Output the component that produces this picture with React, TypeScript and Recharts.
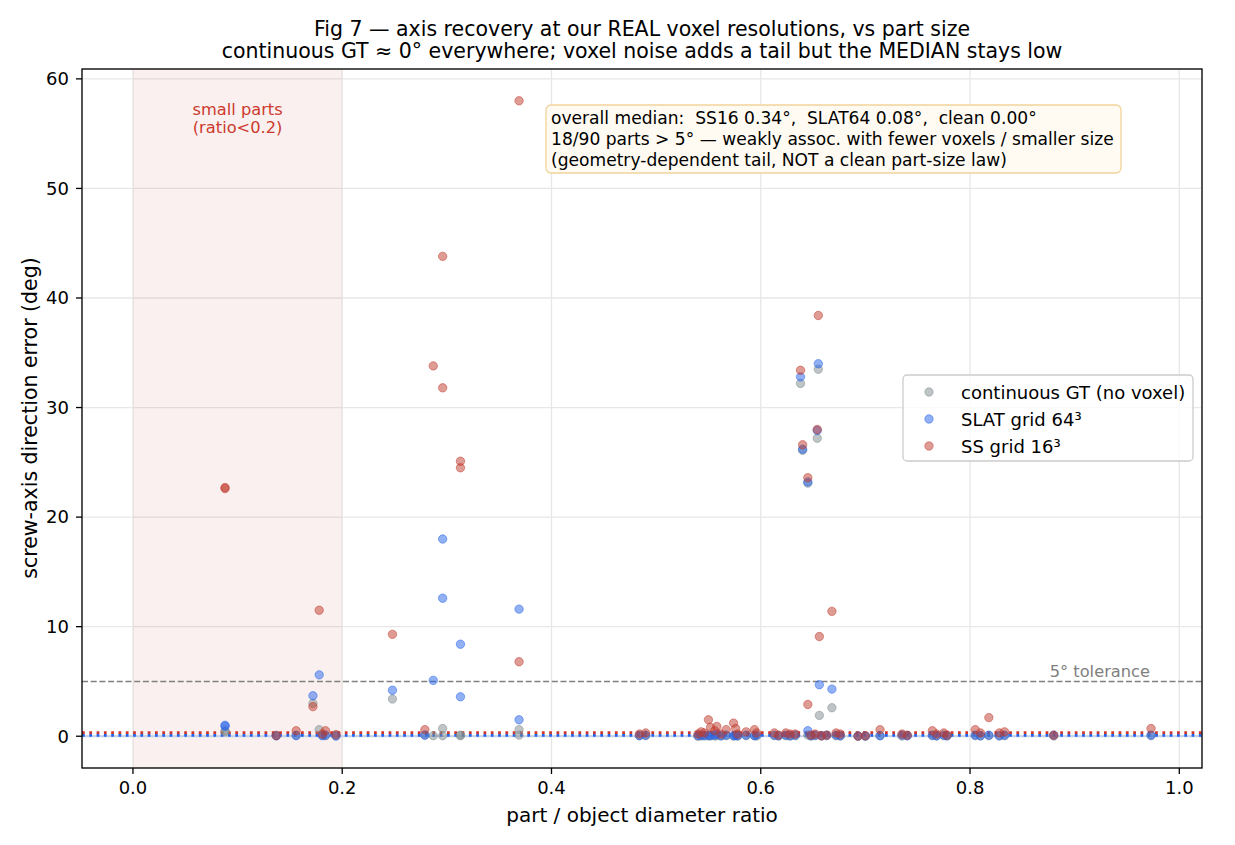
import {
  CartesianGrid,
  Label,
  ReferenceArea,
  ReferenceLine,
  Scatter,
  ScatterChart,
  XAxis,
  YAxis,
} from "recharts";

// part / object diameter ratio, one entry per part
const partRatio = [
  0.088, 0.088, 0.137, 0.156, 0.172, 0.178, 0.181, 0.184, 0.194, 0.248,
  0.279, 0.287, 0.296, 0.296, 0.313, 0.313, 0.369, 0.369, 0.484, 0.49,
  0.54, 0.543, 0.546, 0.55, 0.552, 0.556, 0.558, 0.562, 0.567, 0.574,
  0.576, 0.578, 0.586, 0.594, 0.596, 0.613, 0.617, 0.624, 0.628, 0.633,
  0.638, 0.64, 0.645, 0.645, 0.648, 0.652, 0.654, 0.655, 0.656, 0.658,
  0.663, 0.668, 0.672, 0.676, 0.693, 0.7, 0.714, 0.735, 0.74, 0.764,
  0.768, 0.775, 0.778, 0.805, 0.81, 0.818, 0.828, 0.833, 0.88, 0.973,
];

// screw-axis direction error (deg), continuous ground truth
const gtErr = [
  0.4, 0.5, 0.02, 0.1, 3.0, 0.6, 0.1, 0.05, 0.05, 3.4,
  0.1, 0.05, 0.7, 0.05, 0.1, 0.05, 0.6, 0.1, 0.05, 0.05,
  0.0, 0.02, 0.05, 0.02, 0.05, 0.02, 0.05, 0.02, 0.05, 0.02,
  0.05, 0.02, 0.05, 0.05, 0.02, 0.05, 0.02, 0.05, 0.02, 0.05,
  32.2, 26.1, 23.1, 0.1, 0.02, 0.05, 27.2, 33.5, 1.9, 0.02,
  0.05, 2.6, 0.05, 0.02, 0.0, 0.0, 0.05, 0.02, 0.05, 0.05,
  0.02, 0.05, 0.02, 0.05, 0.02, 0.05, 0.02, 0.05, 0.02, 0.05,
];

// SLAT 64^3 voxel grid
const slatErr = [
  1.0, 0.9, 0.05, 0.05, 3.7, 5.6, 0.05, 0.1, 0.02, 4.2,
  0.1, 5.1, 18.0, 12.6, 8.4, 3.6, 11.6, 1.5, 0.05, 0.1,
  0.05, 0.1, 0.05, 0.1, 0.05, 0.1, 0.2, 0.05, 0.1, 0.05,
  0.1, 0.05, 0.1, 0.05, 0.1, 0.1, 0.05, 0.1, 0.05, 0.1,
  32.8, 26.2, 23.2, 0.5, 0.05, 0.1, 27.9, 34.0, 4.7, 0.05,
  0.1, 4.3, 0.1, 0.05, 0.02, 0.02, 0.05, 0.1, 0.05, 0.1,
  0.05, 0.1, 0.05, 0.1, 0.05, 0.1, 0.05, 0.1, 0.1, 0.1,
];

// SS 16^3 voxel grid
const ssErr = [
  22.7, 22.6, 0.08, 0.5, 2.7, 11.5, 0.2, 0.5, 0.15, 9.3,
  0.6, 33.8, 43.8, 31.8, 25.1, 24.5, 58.0, 6.8, 0.2, 0.3,
  0.2, 0.4, 0.3, 1.5, 0.8, 0.5, 0.9, 0.2, 0.6, 1.2,
  0.7, 0.2, 0.4, 0.6, 0.3, 0.3, 0.1, 0.3, 0.2, 0.2,
  33.4, 26.6, 23.6, 2.9, 0.1, 0.2, 28.0, 38.4, 9.1, 0.05,
  0.1, 11.4, 0.3, 0.2, 0.02, 0.05, 0.6, 0.2, 0.1, 0.5,
  0.2, 0.3, 0.1, 0.6, 0.3, 1.7, 0.3, 0.4, 0.1, 0.7,
];

const MEDIAN_SS16 = 0.34;
const MEDIAN_SLAT64 = 0.08;
const MEDIAN_CLEAN = 0.0;
const TOLERANCE_DEG = 5;
const SMALL_PART_RATIO = 0.2;

const xTicks = [0, 0.2, 0.4, 0.6, 0.8, 1.0];
const yTicks = [0, 10, 20, 30, 40, 50, 60];

const annotationLines = [
  "overall median:  SS16 0.34°,  SLAT64 0.08°,  clean 0.00°",
  "18/90 parts > 5° — weakly assoc. with fewer voxels / smaller size",
  "(geometry-dependent tail, NOT a clean part-size law)",
];

const GT_COLOR = "#7f8c8d";
const SLAT_COLOR = "#2563eb";
const SS_COLOR = "#c0392b";

const FONT = "'DejaVu Sans', sans-serif";

const series = [
  { name: "continuous GT (no voxel)", color: GT_COLOR, values: gtErr },
  { name: "SLAT grid 64³", color: SLAT_COLOR, values: slatErr },
  { name: "SS grid 16³", color: SS_COLOR, values: ssErr },
];

const toPoints = (values: number[]) =>
  partRatio.map((r, i) => ({ ratio: r, err: values[i] }));

const dot = (color: string) => (props: any) => (
  <circle
    cx={props.cx}
    cy={props.cy}
    r={4.2}
    fill={color}
    fillOpacity={0.5}
    stroke={color}
    strokeOpacity={0.5}
    strokeWidth={1}
  />
);

const tickStyle = { fill: "#000", fontSize: 18, fontFamily: FONT };

export default function App() {
  return (
    <div
      style={{
        position: "absolute",
        left: 0,
        top: 0,
        width: 1235,
        height: 845,
        background: "#fff",
        fontFamily: FONT,
      }}
    >
      <ScatterChart
        width={1235}
        height={845}
        margin={{ top: 69, right: 33, bottom: 37, left: 0 }}
      >
        <ReferenceArea
          x1={0}
          x2={SMALL_PART_RATIO}
          fill={SS_COLOR}
          fillOpacity={0.075}
          stroke="none"
          label={(p: any) => {
            const vb = p.viewBox;
            const cx = vb.x + vb.width / 2;
            return (
              <text
                textAnchor="middle"
                fill="#cc3a2e"
                fontSize={16.25}
                fontFamily={FONT}
              >
                <tspan x={cx} y={vb.y + 46}>
                  small parts
                </tspan>
                <tspan x={cx} y={vb.y + 64}>
                  (ratio&lt;0.2)
                </tspan>
              </text>
            );
          }}
        />
        <CartesianGrid stroke="#e7e7e7" strokeWidth={1.3} />
        <XAxis
          type="number"
          dataKey="ratio"
          domain={[-0.0487, 1.0217]}
          allowDataOverflow
          ticks={xTicks}
          tickFormatter={(v: number) => v.toFixed(1)}
          height={40}
          tickSize={6}
          tickMargin={7}
          axisLine={false}
          tickLine={{ stroke: "#000", strokeWidth: 1.3 }}
          tick={tickStyle}
        />
        <YAxis
          type="number"
          dataKey="err"
          domain={[-2.9, 60.9]}
          allowDataOverflow
          ticks={yTicks}
          width={82}
          tickSize={6}
          tickMargin={7}
          axisLine={false}
          tickLine={{ stroke: "#000", strokeWidth: 1.3 }}
          tick={tickStyle}
        />
        {series.map((s) => (
          <Scatter
            key={s.name}
            name={s.name}
            data={toPoints(s.values)}
            shape={dot(s.color)}
            isAnimationActive={false}
          />
        ))}
        <ReferenceLine
          y={TOLERANCE_DEG}
          stroke="#808080"
          strokeWidth={1.6}
          strokeDasharray="6 2.7"
        >
          <Label
            content={(p: any) => {
              const vb = p.viewBox;
              return (
                <text
                  x={vb.x + vb.width - 52}
                  y={vb.y - 4}
                  textAnchor="end"
                  fill="#808080"
                  fontSize={16.25}
                  fontFamily={FONT}
                >
                  5° tolerance
                </text>
              );
            }}
          />
        </ReferenceLine>
        <ReferenceLine y={MEDIAN_CLEAN} stroke="#c6d2e8" strokeWidth={2} />
        <ReferenceLine
          y={MEDIAN_SLAT64}
          stroke={SLAT_COLOR}
          strokeWidth={2.75}
          strokeDasharray="2.75 4.55"
        />
        <ReferenceLine
          y={MEDIAN_SS16}
          stroke="#d0352b"
          strokeWidth={2.75}
          strokeDasharray="2.75 4.55"
        />
      </ScatterChart>

      <svg
        width={1235}
        height={845}
        style={{ position: "absolute", left: 0, top: 0, pointerEvents: "none" }}
        fontFamily={FONT}
      >
        {/* axes frame */}
        <rect
          x={82}
          y={69}
          width={1120}
          height={699}
          fill="none"
          stroke="#000"
          strokeWidth={1.3}
        />

        {/* title */}
        <text x={642} y={36} textAnchor="middle" fontSize={20.5} fill="#000">
          Fig 7 — axis recovery at our REAL voxel resolutions, vs part size
        </text>
        <text x={642} y={58} textAnchor="middle" fontSize={20.5} fill="#000">
          continuous GT ≈ 0° everywhere; voxel noise adds a tail but the MEDIAN
          stays low
        </text>

        {/* axis labels */}
        <text x={642} y={822} textAnchor="middle" fontSize={20} fill="#000">
          part / object diameter ratio
        </text>
        <text
          x={0}
          y={0}
          transform="translate(37 418) rotate(-90)"
          textAnchor="middle"
          fontSize={20.5}
          fill="#000"
        >
          screw-axis direction error (deg)
        </text>

        {/* summary box */}
        <rect
          x={546}
          y={105}
          width={575}
          height={68}
          rx={5}
          fill="#fffbf2"
          stroke="#f2d39a"
          strokeWidth={1.3}
        />
        {annotationLines.map((line, i) => (
          <text
            key={i}
            x={551}
            y={124 + i * 21}
            fontSize={17.1}
            fill="#000"
            style={{ whiteSpace: "pre" }}
          >
            {line}
          </text>
        ))}

        {/* legend */}
        <rect
          x={903}
          y={375}
          width={290}
          height={86}
          rx={4}
          fill="#fff"
          fillOpacity={0.8}
          stroke="#cccccc"
          strokeWidth={1.3}
        />
        {series.map((s, i) => {
          const cy = 392 + i * 27;
          return (
            <g key={s.name}>
              <circle
                cx={929}
                cy={cy}
                r={4.2}
                fill={s.color}
                fillOpacity={0.5}
                stroke={s.color}
                strokeOpacity={0.5}
              />
              <text x={961} y={cy + 6.5} fontSize={18} fill="#000">
                {s.name}
              </text>
            </g>
          );
        })}
      </svg>
    </div>
  );
}
